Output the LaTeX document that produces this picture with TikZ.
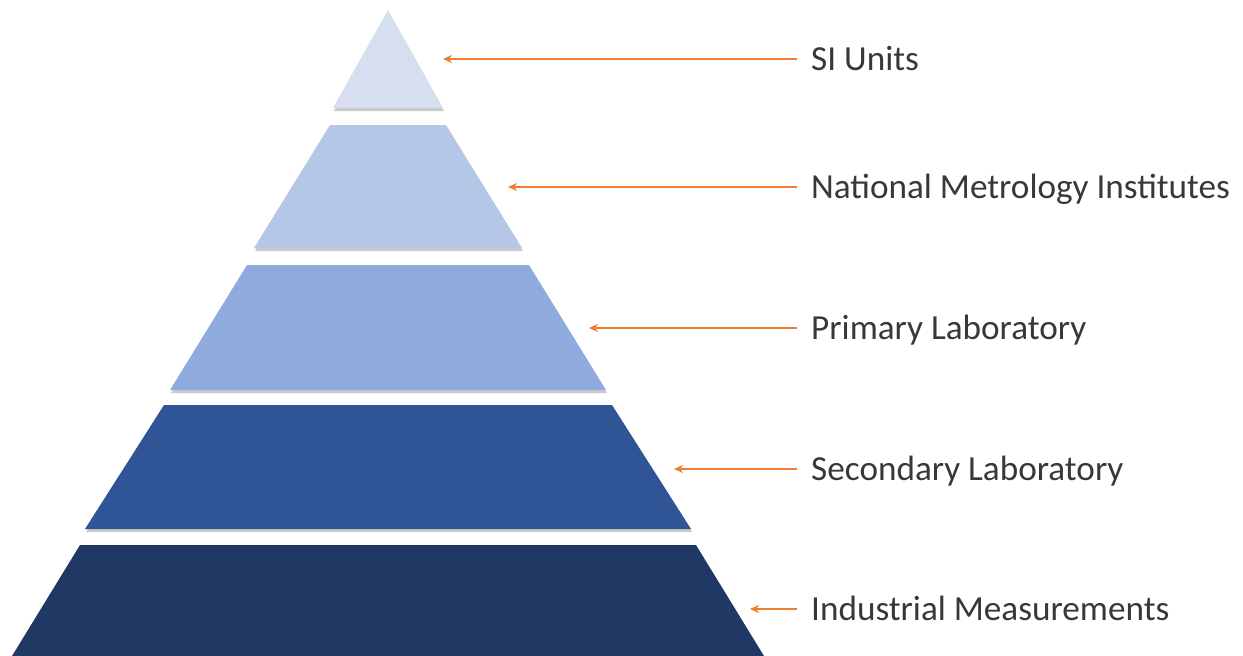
\documentclass[tikz,border=0pt]{standalone}
\usepackage{fontspec}
\setmainfont{Carlito}
\usetikzlibrary{arrows.meta,shadows}
\definecolor{tierone}{HTML}{D6DEF0}
\definecolor{tiertwo}{HTML}{B4C7E7}
\definecolor{tierthree}{HTML}{8FAADC}
\definecolor{tierfour}{HTML}{2F5597}
\definecolor{tierfive}{HTML}{203864}
\definecolor{pointer}{HTML}{ED7D31}
\definecolor{labeltext}{HTML}{383838}
\def\tier[#1](#2:#3)(#4:#5){\fill[#1] ({388-#3},#2) -- ({388+#3},#2) -- ({388+#5},#4) -- ({388-#5},#4) -- cycle;}

\begin{document}
\begin{tikzpicture}[x=1pt, y=-1pt,
    layer/.style={drop shadow={shadow xshift=1pt, shadow yshift=-3pt, opacity=0.35, fill=black!60}},
    tag/.style={anchor=west, inner xsep=14pt, inner ysep=0pt, text height=22pt, text depth=0pt,
        text=labeltext, font=\fontsize{35.2}{37}\selectfont},
    link/.style={draw=pointer, line width=2pt, -{Stealth[length=9pt, width=8pt]}}]
    \useasboundingbox (0,0) rectangle (1243,656);
    %%%%% PYRAMID %%%%%
    \tier[layer, fill=tierone](10:0)(108:55);
    \tier[layer, fill=tiertwo](125:58)(248:134);
    \tier[layer, fill=tierthree](265:141)(390:218);
    \tier[layer, fill=tierfour](405:224)(529:303);
    \tier[layer, fill=tierfive](545:308)(656:376);

    %%%%% LABELS %%%%%
    \coordinate (si tip) at (443, 59);
    \coordinate (nmi tip) at (508, 187);
    \coordinate (primary tip) at (589, 328);
    \coordinate (secondary tip) at (674, 469);
    \coordinate (industry tip) at (750, 609);

    \node[tag] (si) at (797, 59) {SI Units};
    \node[tag] (nmi) at (797, 187) {National Metrology Institutes};
    \node[tag] (primary) at (797, 328) {Primary Laboratory};
    \node[tag] (secondary) at (797, 469) {Secondary Laboratory};
    \node[tag] (industry) at (797, 609) {Industrial Measurements};

    \draw[link] (si.west) -- (si tip);
    \draw[link] (nmi.west) -- (nmi tip);
    \draw[link] (primary.west) -- (primary tip);
    \draw[link] (secondary.west) -- (secondary tip);
    \draw[link] (industry.west) -- (industry tip);
\end{tikzpicture}
\end{document}
